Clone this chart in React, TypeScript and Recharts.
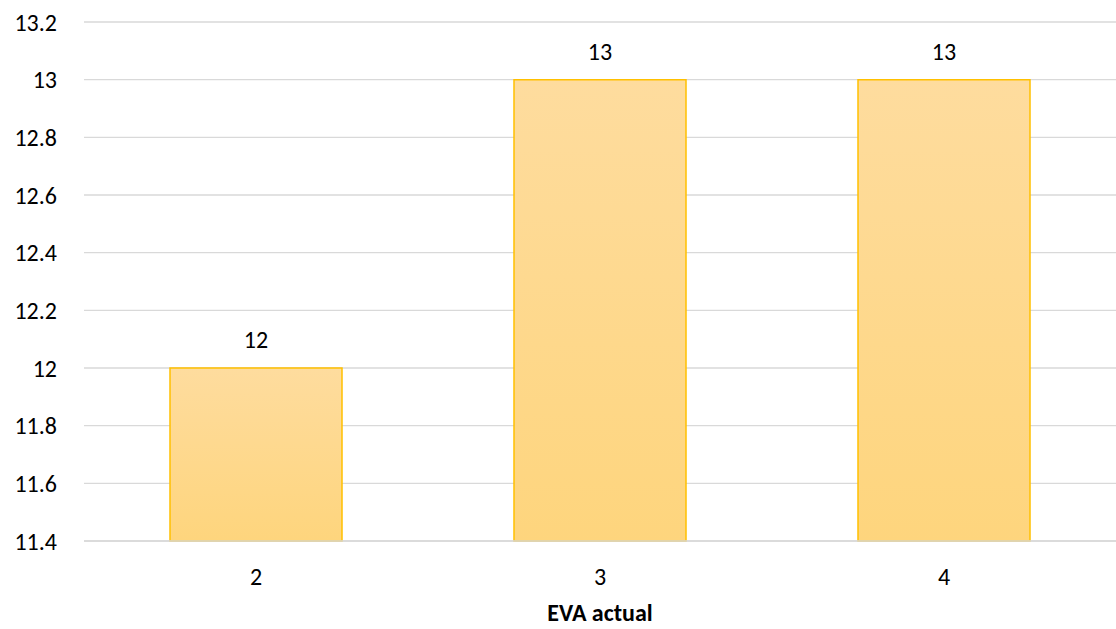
import React from 'react';
import { Bar, BarChart, CartesianGrid, LabelList, XAxis, YAxis } from 'recharts';

const categories = ['2', '3', '4'];
const evaValues = [12, 13, 13];
const yTicks = [11.4, 11.6, 11.8, 12, 12.2, 12.4, 12.6, 12.8, 13, 13.2];

const data = categories.map((c, i) => ({ name: c, value: evaValues[i] }));

const font = 'Carlito, Calibri, "Liberation Sans", "Open Sans", sans-serif';
const fs = 24;

export default function App() {
    return (
        <div style={{ position: 'absolute', left: 0, top: 0, width: 1116, height: 629, background: '#fff', fontFamily: font }}>
            <BarChart
                width={1116}
                height={629}
                data={data}
                margin={{ top: 22, right: 0, left: 0, bottom: 0 }}
                barCategoryGap="25%"
            >
                <defs>
                    <linearGradient id="barFill" x1="0" y1="0" x2="0" y2="1">
                        <stop offset="0%" stopColor="#FEDC9E" />
                        <stop offset="100%" stopColor="#FED57D" />
                    </linearGradient>
                </defs>
                <CartesianGrid stroke="#d9d9d9" strokeWidth={1.3} vertical={false} />
                <XAxis
                    dataKey="name"
                    height={88}
                    axisLine={{ stroke: '#d9d9d9', strokeWidth: 1.3 }}
                    tickLine={false}
                    tickSize={0}
                    tickMargin={27}
                    tick={{ fontSize: fs, fill: '#000', fontFamily: font }}
                    label={{ value: 'EVA actual', position: 'insideBottom', offset: 8, fontSize: fs, fontWeight: 'bold', fill: '#000', fontFamily: font }}
                />
                <YAxis
                    domain={[11.4, 13.2]}
                    ticks={yTicks}
                    width={84}
                    axisLine={false}
                    tickLine={false}
                    tickSize={0}
                    tickMargin={27}
                    tick={{ fontSize: fs, fill: '#000', fontFamily: font }}
                />
                <Bar dataKey="value" fill="url(#barFill)" stroke="#FFC000" strokeWidth={1.5} isAnimationActive={false}>
                    <LabelList dataKey="value" position="top" offset={20} style={{ fontSize: fs, fill: '#000', fontFamily: font }} />
                </Bar>
            </BarChart>
        </div>
    );
}
